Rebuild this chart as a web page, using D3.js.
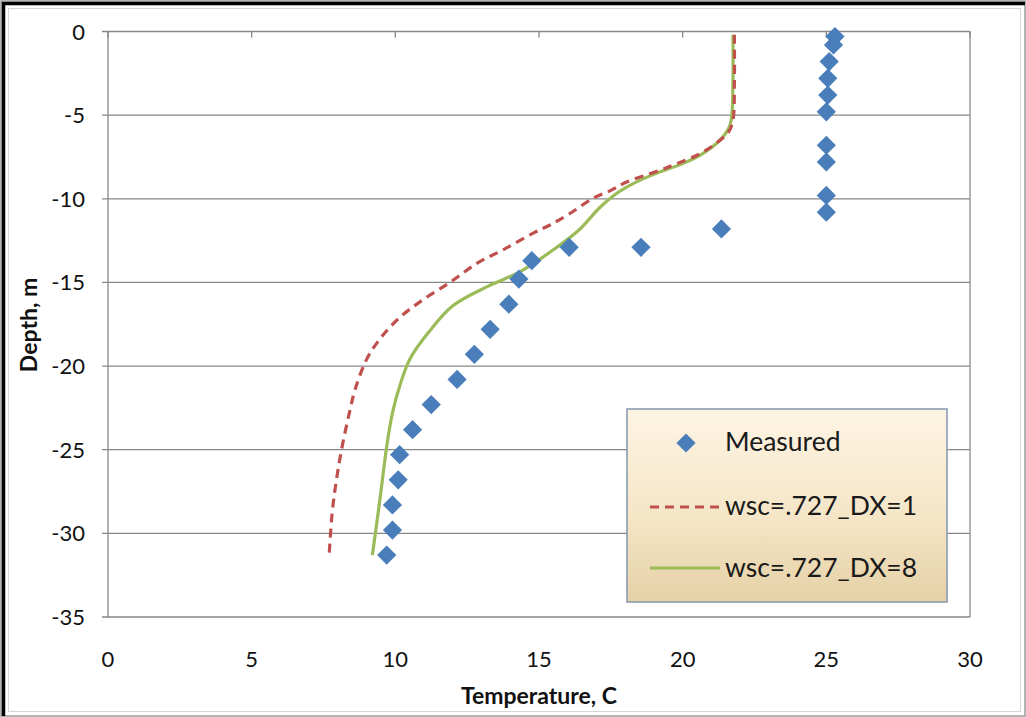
<!DOCTYPE html>
<html>
<head>
<meta charset="utf-8">
<script src="https://cdn.jsdelivr.net/npm/d3@7"></script>
<style>
  body { margin: 0; background: #fff; }
  svg { display: block; font-family: Lato, "Open Sans", sans-serif; }
</style>
</head>
<body>
<svg id="chart" width="1026" height="717"></svg>
<script>
"use strict"

// measured profile (temperature C, depth m)
var measuredT = [25.3, 25.25, 25.1, 25.05, 25.05, 25.0, 25.0, 25.0, 25.0, 25.0,
                 21.35, 18.55, 16.05, 14.75, 14.3, 13.95, 13.3, 12.75, 12.15, 11.25,
                 10.6, 10.15, 10.1, 9.9, 9.9, 9.7]
var measuredD = [-0.3, -0.8, -1.8, -2.8, -3.8, -4.8, -6.8, -7.8, -9.8, -10.8,
                 -11.8, -12.9, -12.9, -13.7, -14.8, -16.3, -17.8, -19.3, -20.8, -22.3,
                 -23.8, -25.3, -26.8, -28.3, -29.8, -31.3]

// wsc=.727_DX=1
var dx1T = [21.8, 21.8, 21.75, 21.6, 21.15, 20.5, 19.8, 19.2, 18.05, 17.5, 16.9, 16.1,
            15.4, 14.8, 13.75, 12.85, 11.9, 10.95, 10.15, 9.5, 9.0, 8.6, 8.4, 8.15,
            7.95, 7.8, 7.7]
var dx1D = [-0.2, -3.0, -5.3, -6.0, -6.7, -7.4, -7.9, -8.3, -9.0, -9.5, -9.95, -10.85,
            -11.55, -12.05, -13.05, -13.85, -15.0, -16.05, -17.1, -18.3, -19.6, -21.4, -22.8, -24.8,
            -26.8, -28.8, -31.2]

// wsc=.727_DX=8
var dx8T = [21.75, 21.75, 21.7, 21.6, 21.3, 20.7, 20.0, 18.9, 18.05, 17.6, 17.1, 16.4,
            15.5, 14.35, 13.2, 12.0, 11.15, 10.5, 10.15, 9.9, 9.7, 9.55, 9.4, 9.2]
var dx8D = [-0.2, -3.0, -5.2, -5.8, -6.5, -7.3, -7.9, -8.6, -9.3, -9.8, -10.55, -11.85,
            -13.05, -14.35, -15.25, -16.4, -18.0, -19.6, -21.2, -22.8, -24.8, -26.8, -28.8, -31.3]

var xTicks = [0, 5, 10, 15, 20, 25, 30]
var yTicks = [0, -5, -10, -15, -20, -25, -30, -35]
var seriesNames = ["Measured", "wsc=.727_DX=1", "wsc=.727_DX=8"]

var svg = d3.select("#chart")
var plotL = 108, plotR = 970, plotT = 31.5, plotB = 617

var x = d3.scaleLinear().domain([0, 30]).range([plotL, plotR])
var y = d3.scaleLinear().domain([0, -35]).range([plotT, plotB])

// frame
svg.append("rect").attr("x", 1).attr("y", 1).attr("width", 1024).attr("height", 715)
    .attr("fill", "#fff").attr("stroke", "#9a9a9a").attr("stroke-width", 1.5)
svg.append("path").attr("d", "M3.5,716 V3.5 H1025")
    .attr("fill", "none").attr("stroke", "#000").attr("stroke-width", 3.5)
svg.append("rect").attr("x", 8.5).attr("y", 8.5).attr("width", 1012).attr("height", 703)
    .attr("fill", "none").attr("stroke", "#d6d6d6").attr("stroke-width", 1)

// gridlines
svg.append("g").selectAll("line").data(yTicks).join("line")
    .attr("x1", plotL - 6).attr("x2", plotR)
    .attr("y1", function (d) { return y(d) }).attr("y2", function (d) { return y(d) })
    .attr("stroke", "#878787").attr("stroke-width", 1.3)

svg.append("line").attr("x1", plotR).attr("x2", plotR).attr("y1", plotT).attr("y2", plotB)
    .attr("stroke", "#8a8a8a").attr("stroke-width", 1.3)
svg.append("line").attr("x1", plotL).attr("x2", plotL).attr("y1", plotT).attr("y2", plotB)
    .attr("stroke", "#878787").attr("stroke-width", 1.3)

// x axis sits at depth 0, tick labels are pushed to the bottom
svg.append("g").selectAll("line").data(xTicks).join("line")
    .attr("x1", function (d) { return x(d) }).attr("x2", function (d) { return x(d) })
    .attr("y1", plotT).attr("y2", plotT + 6)
    .attr("stroke", "#878787").attr("stroke-width", 1.3)

svg.append("g").selectAll("text").data(xTicks).join("text")
    .attr("x", function (d) { return x(d) }).attr("y", 667)
    .attr("text-anchor", "middle").attr("font-size", 22).attr("fill", "#111")
    .text(function (d) { return d })

svg.append("g").selectAll("text").data(yTicks).join("text")
    .attr("x", 85).attr("y", function (d) { return y(d) + 8 })
    .attr("text-anchor", "end").attr("font-size", 22).attr("fill", "#111")
    .text(function (d) { return d })

svg.append("text").attr("x", 539).attr("y", 704).attr("text-anchor", "middle")
    .attr("font-size", 23).attr("font-weight", "bold").attr("fill", "#111")
    .text("Temperature, C")
svg.append("text").attr("transform", "translate(37,325) rotate(-90)")
    .attr("text-anchor", "middle")
    .attr("font-size", 23).attr("font-weight", "bold").attr("fill", "#111")
    .text("Depth, m")

// model curves
var line = d3.line().curve(d3.curveCatmullRom.alpha(0.5))
var dx1 = dx1T.map(function (t, i) { return [x(t), y(dx1D[i])] })
var dx8 = dx8T.map(function (t, i) { return [x(t), y(dx8D[i])] })

svg.append("path").attr("d", line(dx8)).attr("fill", "none")
    .attr("stroke", "#9bbb59").attr("stroke-width", 3.2)
svg.append("path").attr("d", line(dx1)).attr("fill", "none")
    .attr("stroke", "#c0504d").attr("stroke-width", 3.2).attr("stroke-dasharray", "9,6")

// measured diamonds
var diamond = d3.symbol().type(d3.symbolSquare).size(185)
svg.append("g").selectAll("path").data(measuredT).join("path")
    .attr("d", diamond)
    .attr("transform", function (t, i) { return "translate(" + x(t) + "," + y(measuredD[i]) + ") rotate(45)" })
    .attr("fill", "#4a7ebb")

// legend
var defs = svg.append("defs")
var grad = defs.append("linearGradient").attr("id", "lg").attr("x1", 0).attr("y1", 0).attr("x2", 0).attr("y2", 1)
grad.append("stop").attr("offset", "0%").attr("stop-color", "#fdf4e3")
grad.append("stop").attr("offset", "55%").attr("stop-color", "#f5e6c8")
grad.append("stop").attr("offset", "100%").attr("stop-color", "#e5d1a6")

var lg = svg.append("g").attr("transform", "translate(627,409)")
lg.append("rect").attr("width", 320).attr("height", 193)
    .attr("fill", "url(#lg)").attr("stroke", "#8b9bb0").attr("stroke-width", 1.6)

var rowY = [34, 98, 159]
var textY = [42, 106, 168]
lg.append("path").attr("d", diamond).attr("transform", "translate(59," + rowY[0] + ") rotate(45)")
    .attr("fill", "#4a7ebb")
lg.append("line").attr("x1", 23).attr("x2", 93).attr("y1", rowY[1]).attr("y2", rowY[1])
    .attr("stroke", "#c0504d").attr("stroke-width", 3.2).attr("stroke-dasharray", "9,6")
lg.append("line").attr("x1", 23).attr("x2", 93).attr("y1", rowY[2]).attr("y2", rowY[2])
    .attr("stroke", "#9bbb59").attr("stroke-width", 3.2)

lg.selectAll("text.name").data(seriesNames).join("text").attr("class", "name")
    .attr("x", 98)
    .attr("y", function (d, i) { return textY[i] })
    .attr("font-size", 26.5).attr("fill", "#1a1a1a")
    .text(function (d) { return d })
</script>
</body>
</html>
